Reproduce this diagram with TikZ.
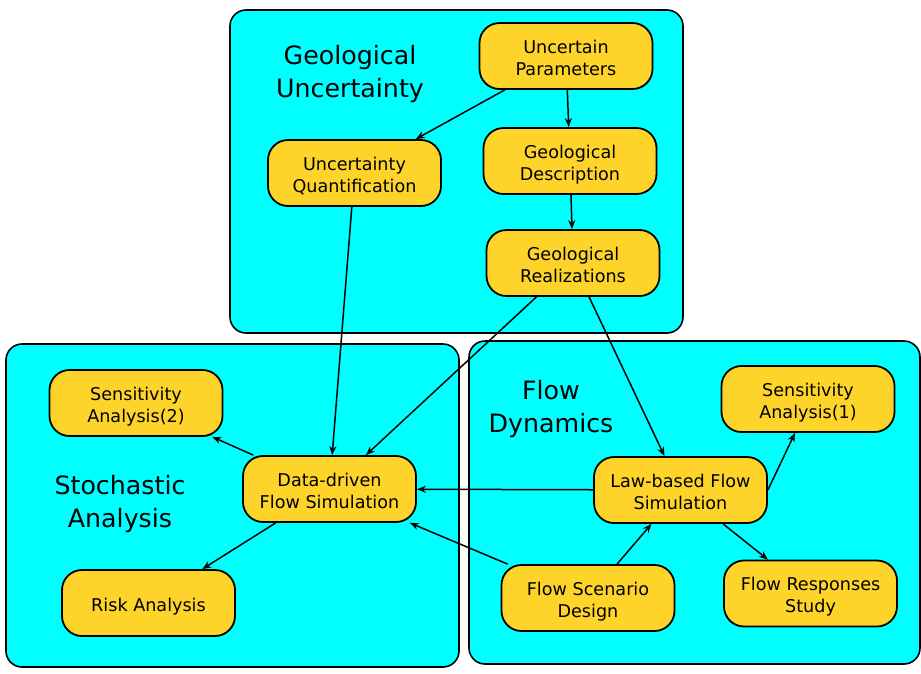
\documentclass[tikz,border=0pt]{standalone}
\usepackage{fontspec}
\setmainfont{DejaVu Sans}
\usepackage{xcolor}
\usetikzlibrary{arrows.meta}

\definecolor{zonecyan}{RGB}{0,255,255}
\definecolor{taskyellow}{RGB}{255,212,42}

\begin{document}
\begin{tikzpicture}[x=1pt, y=-1pt,
    zone/.style={draw=black, line width=1.6pt, fill=zonecyan, rounded corners=16pt},
    zonetitle/.style={align=center, font=\fontsize{25.3}{32.6}\selectfont},
    task/.style={draw=black, line width=1.8pt, fill=taskyellow, rounded corners=20pt,
      minimum width=173pt, minimum height=66pt, inner sep=0pt, align=center,
      font=\fontsize{17.6}{21.7}\selectfont, text height=40pt, text depth=2pt},
    flow/.style={line width=1.5pt, -{Stealth[length=9pt, width=7pt, inset=3pt]}}]
  \useasboundingbox (0,0) rectangle (921,673);

  % Zones
  \draw[zone] (230, 10) rectangle (683, 333);
  \draw[zone] (6, 344) rectangle (459, 667);
  \draw[zone] (469, 341) rectangle (920, 664);

  \node[zonetitle] (geo_title) at (350, 74) {Geological\\Uncertainty};
  \node[zonetitle] (sto_title) at (120, 504) {Stochastic\\Analysis};
  \node[zonetitle] (flow_title) at (551, 409) {Flow\\Dynamics};

  % Geological Uncertainty
  \node[task] (params) at (566, 56) {Uncertain\\Parameters};
  \node[task] (uq) at (354.5, 173) {Uncertainty\\Quantification};
  \node[task] (geo_desc) at (570, 161) {Geological\\Description};
  \node[task] (geo_real) at (573, 263) {Geological\\Realizations};

  % Stochastic Analysis
  \node[task] (sens2) at (136, 403) {Sensitivity\\Analysis(2)};
  \node[task] (data_sim) at (329.5, 489) {Data-driven\\Flow Simulation};
  \node[task, text height=18pt, text depth=0.6pt] (risk) at (148.5, 603) {Risk Analysis};

  % Flow Dynamics
  \node[task] (sens1) at (808, 399) {Sensitivity\\Analysis(1)};
  \node[task] (law_sim) at (680.5, 490) {Law-based Flow\\Simulation};
  \node[task] (scenario) at (588, 598) {Flow Scenario\\Design};
  \node[task] (responses) at (810.5, 593.5) {Flow Responses\\Study};

  % Connectors
  \draw[flow] (params) -- (uq);
  \draw[flow] (params) -- (geo_desc);
  \draw[flow] (geo_desc) -- (geo_real);
  \draw[flow] (uq) -- (data_sim);
  \draw[flow] (geo_real) -- (data_sim);
  \draw[flow] (geo_real) -- (law_sim);
  \draw[flow] (law_sim) -- (data_sim);
  \draw[flow] (data_sim) -- (sens2);
  \draw[flow] (data_sim) -- (risk);
  \draw[flow] (scenario) -- (data_sim);
  \draw[flow] (scenario) -- (law_sim);
  \draw[flow] (law_sim.east) -- ([xshift=-13pt]sens1.south);
  \draw[flow] (law_sim) -- (responses);
\end{tikzpicture}
\end{document}
